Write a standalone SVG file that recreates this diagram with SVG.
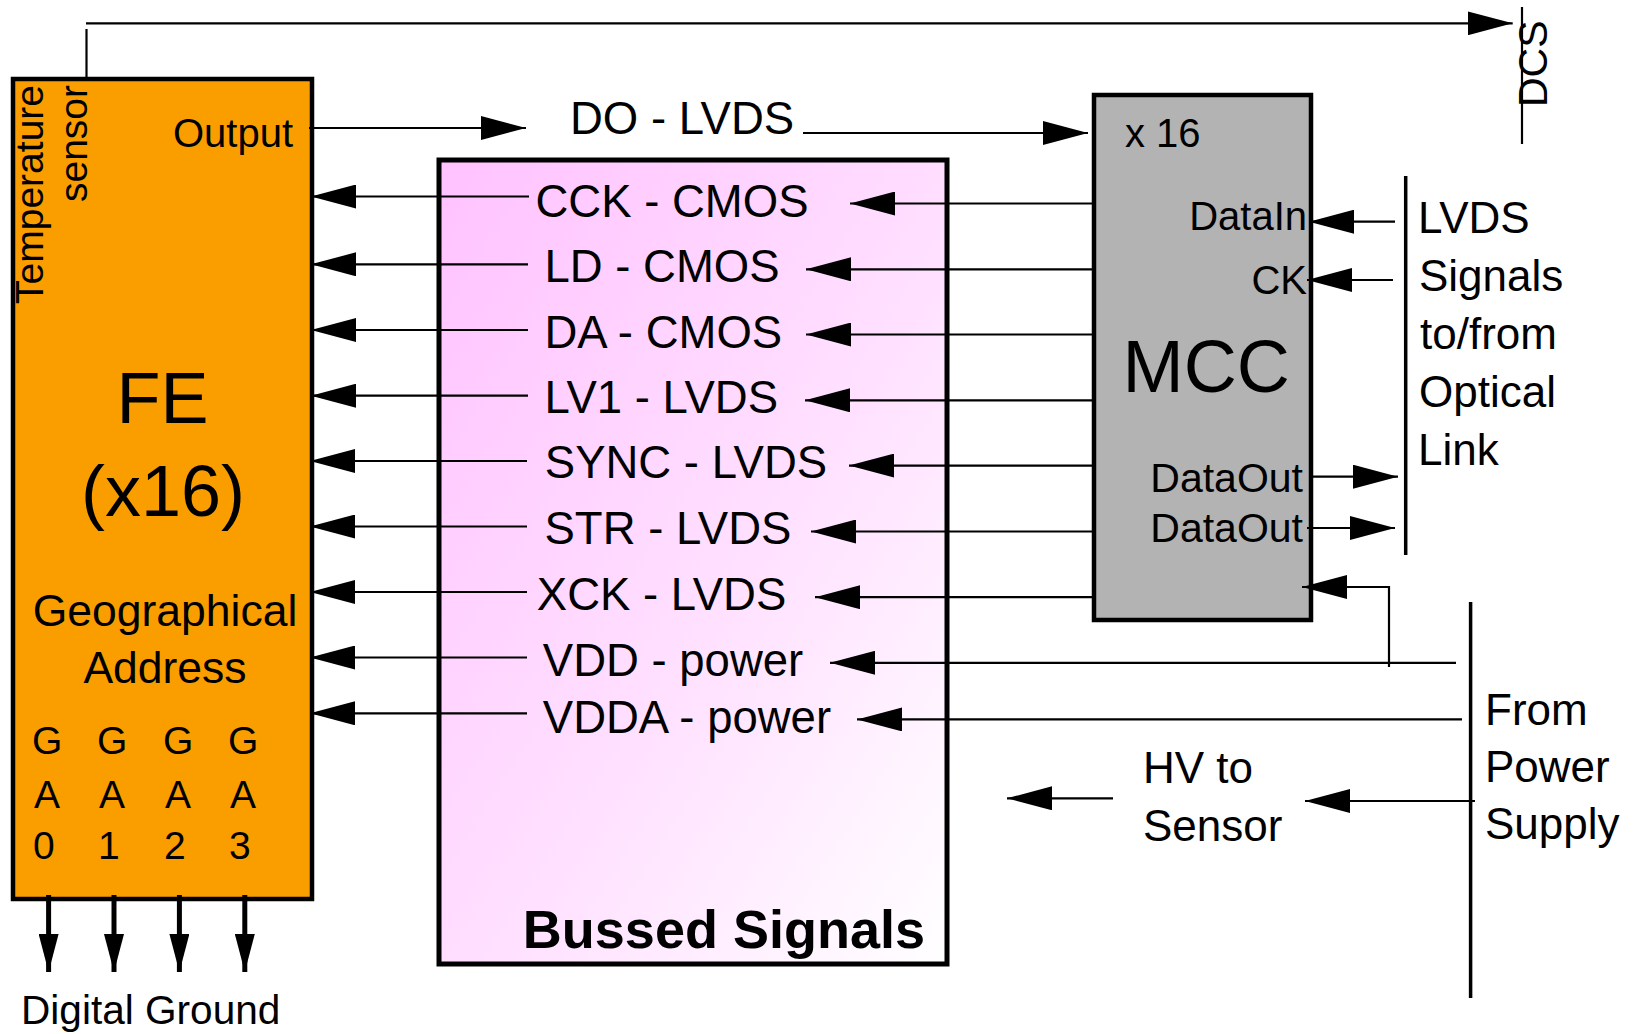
<svg xmlns="http://www.w3.org/2000/svg" width="1633" height="1034" viewBox="0 0 1633 1034">
<defs>
<linearGradient id="pink" x1="0" y1="0" x2="1" y2="1">
<stop offset="0" stop-color="#FFC2FF"/>
<stop offset="0.55" stop-color="#FFE0FF"/>
<stop offset="1" stop-color="#FFFFFF"/>
</linearGradient>
<marker id="ah" markerUnits="userSpaceOnUse" viewBox="0 0 45 24" markerWidth="45" markerHeight="24" refX="45" refY="12" orient="auto">
<path d="M0,0 L45,12 L0,24 z" fill="#000"/>
</marker>
<marker id="ahg" markerUnits="userSpaceOnUse" viewBox="0 0 38 20" markerWidth="38" markerHeight="20" refX="38" refY="10" orient="auto">
<path d="M0,0 L38,10 L0,20 z" fill="#000"/>
</marker>
<style>
text{font-family:"Liberation Sans",Arial,sans-serif;fill:#000}
.box{stroke:#000;stroke-width:4.5}
.w{fill:none;stroke:#000;stroke-width:2.2}
.a{fill:none;stroke:#000;stroke-width:2.2;marker-end:url(#ah)}
.g{fill:none;stroke:#000;stroke-width:5;marker-end:url(#ahg)}
.bar{fill:none;stroke:#000;stroke-width:3.5}
.s39{font-size:39px}
.s40{font-size:40px}
.s41{font-size:41px}
.s43{font-size:44px}
.s44{font-size:45.5px}
</style>
</defs>
<rect width="1633" height="1034" fill="#fff"/>
<g id="fe">
<rect class="box" x="13" y="79" width="299" height="820" fill="#FA9E00"/>
<text class="s39" transform="translate(43,85) rotate(-90)" text-anchor="end">Temperature</text>
<text class="s39" transform="translate(87,85) rotate(-90)" text-anchor="end">sensor</text>
<text class="s40" x="293" y="147" text-anchor="end">Output</text>
<text x="162.5" y="423" font-size="72" text-anchor="middle">FE</text>
<text x="163" y="516" font-size="72" text-anchor="middle">(x16)</text>
<text x="165" y="626" font-size="44.5" text-anchor="middle">Geographical</text>
<text x="165" y="683" font-size="44.5" text-anchor="middle">Address</text>
<g class="s39">
<text x="32" y="754">G</text><text x="97" y="754">G</text><text x="163" y="754">G</text><text x="228" y="754">G</text>
<text x="34" y="808">A</text><text x="99" y="808">A</text><text x="165" y="808">A</text><text x="230" y="808">A</text>
<text x="33" y="859">0</text><text x="98" y="859">1</text><text x="164" y="859">2</text><text x="229" y="859">3</text>
</g>
</g>
<g id="bussed">
<rect x="439" y="160" width="508" height="804" fill="url(#pink)" stroke="#000" stroke-width="5"/>
<g class="s44">
<text x="535.5" y="217">CCK - CMOS</text>
<text x="544.5" y="282">LD - CMOS</text>
<text x="544.5" y="348">DA - CMOS</text>
<text x="544.5" y="413">LV1 - LVDS</text>
<text x="544.8" y="477.5">SYNC - LVDS</text>
<text x="544.5" y="543.6">STR - LVDS</text>
<text x="536.8" y="609.6">XCK - LVDS</text>
<text x="542.8" y="675.7">VDD - power</text>
<text x="542.8" y="732.7">VDDA - power</text>
</g>
<text x="925" y="948" font-size="54" font-weight="bold" text-anchor="end">Bussed Signals</text>
</g>
<g id="mcc">
<rect class="box" x="1094" y="95" width="217" height="525" fill="#B3B3B3"/>
<text class="s40" x="1125" y="147">x 16</text>
<text x="1122.5" y="392" font-size="73.5">MCC</text>
<text class="s40" x="1307" y="230" text-anchor="end">DataIn</text>
<text class="s40" x="1307" y="294" text-anchor="end">CK</text>
<text class="s41" x="1303" y="492" text-anchor="end">DataOut</text>
<text class="s41" x="1303" y="541.7" text-anchor="end">DataOut</text>
</g>
<g id="labels">
<text class="s44" x="570" y="134">DO - LVDS</text>
<g class="s43">
<text x="1418" y="233">LVDS</text>
<text x="1419" y="291">Signals</text>
<text x="1420" y="349">to/from</text>
<text x="1419" y="407">Optical</text>
<text x="1418" y="465">Link</text>
<text x="1143" y="783">HV to</text>
<text x="1143" y="841">Sensor</text>
<text x="1485" y="725">From</text>
<text x="1485" y="782">Power</text>
<text x="1485" y="839">Supply</text>
</g>
<text x="21" y="1024" font-size="40.6">Digital Ground</text>
<text font-size="41" transform="translate(1547,107) rotate(-90)">DCS</text>
</g>
<g id="connectors">
<line class="w" x1="86.5" y1="29" x2="86.5" y2="79"/>
<line class="a" x1="86" y1="23.3" x2="1512.7" y2="23.3"/>
<line class="w" x1="1522" y1="7" x2="1522" y2="144"/>
<line class="a" x1="309" y1="128" x2="526" y2="128"/>
<line class="a" x1="803" y1="133" x2="1088" y2="133"/>
<line class="a" x1="529" y1="196.5" x2="311" y2="196.5"/>
<line class="a" x1="528" y1="264.3" x2="311" y2="264.3"/>
<line class="a" x1="528" y1="330" x2="311" y2="330"/>
<line class="a" x1="528" y1="395.7" x2="311" y2="395.7"/>
<line class="a" x1="527" y1="461" x2="310" y2="461"/>
<line class="a" x1="527" y1="526.5" x2="310" y2="526.5"/>
<line class="a" x1="527" y1="592" x2="310" y2="592"/>
<line class="a" x1="527" y1="657.5" x2="310" y2="657.5"/>
<line class="a" x1="527" y1="713.3" x2="310" y2="713.3"/>
<line class="a" x1="1092" y1="203.5" x2="850" y2="203.5"/>
<line class="a" x1="1092" y1="269.3" x2="806" y2="269.3"/>
<line class="a" x1="1092" y1="334.5" x2="806" y2="334.5"/>
<line class="a" x1="1092" y1="400.3" x2="805" y2="400.3"/>
<line class="a" x1="1092" y1="465.6" x2="849" y2="465.6"/>
<line class="a" x1="1092" y1="531.5" x2="811" y2="531.5"/>
<line class="a" x1="1092" y1="597.2" x2="815" y2="597.2"/>
<line class="a" x1="1456" y1="662.8" x2="830" y2="662.8"/>
<line class="a" x1="1462" y1="719.4" x2="857" y2="719.4"/>
<line class="a" x1="1395" y1="221.7" x2="1309" y2="221.7"/>
<line class="a" x1="1393" y1="280" x2="1307" y2="280"/>
<line class="a" x1="1313" y1="476.7" x2="1398" y2="476.7"/>
<line class="a" x1="1307" y1="528" x2="1395" y2="528"/>
<polyline class="a" points="1389,667 1389,587 1302,587"/>
<line class="bar" x1="1405.7" y1="176" x2="1405.7" y2="555"/>
<line class="bar" x1="1470.6" y1="602" x2="1470.6" y2="998"/>
<line class="a" x1="1475" y1="801" x2="1305" y2="801"/>
<line class="a" x1="1113" y1="798.3" x2="1007" y2="798.3"/>
<line class="g" x1="48.6" y1="895" x2="48.6" y2="972"/>
<line class="g" x1="114" y1="895" x2="114" y2="972"/>
<line class="g" x1="179.4" y1="895" x2="179.4" y2="972"/>
<line class="g" x1="244.8" y1="895" x2="244.8" y2="972"/>
</g>
</svg>
